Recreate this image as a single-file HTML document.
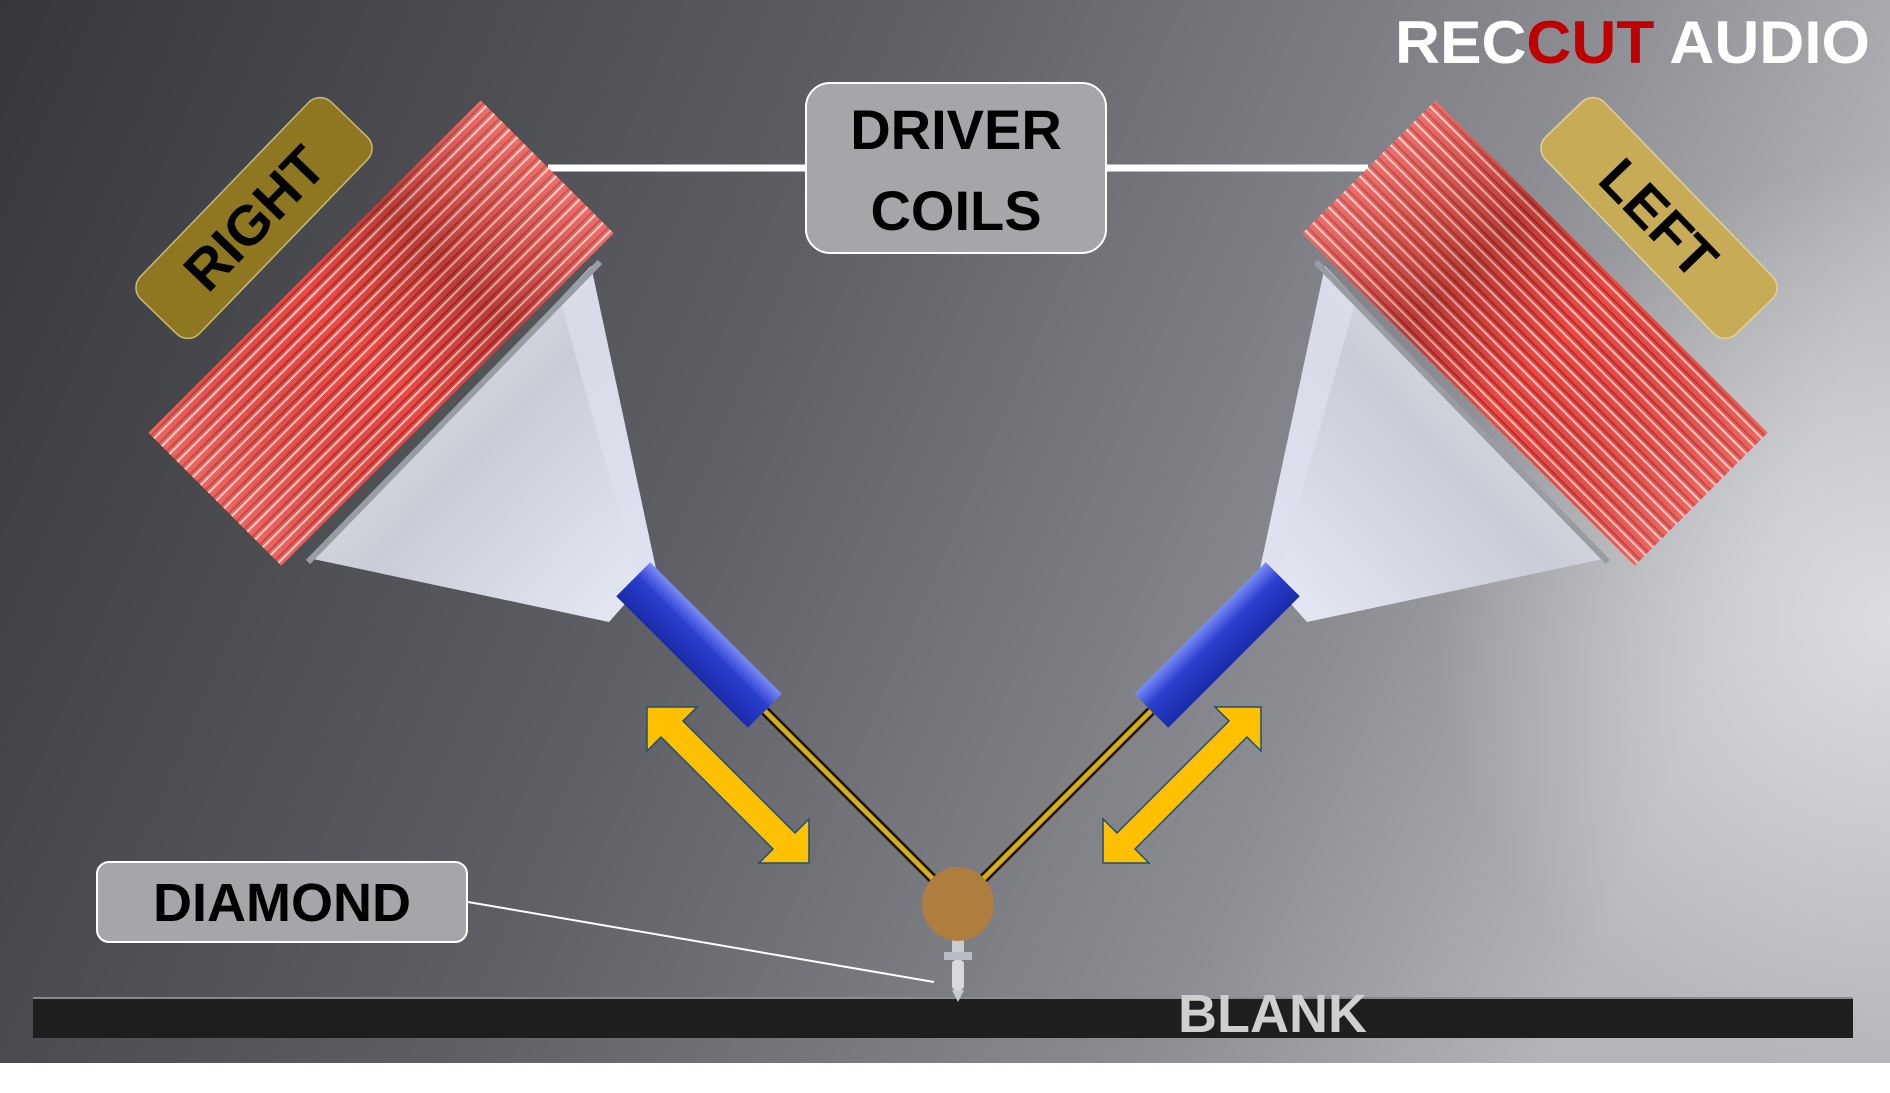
<!DOCTYPE html>
<html><head><meta charset="utf-8"><style>
html,body{margin:0;padding:0;background:#fff}
svg{display:block}
text{font-family:"Liberation Sans",sans-serif;font-weight:bold}
</style></head><body>
<svg width="1890" height="1093" viewBox="0 0 1890 1093" xmlns="http://www.w3.org/2000/svg">
<defs>
<linearGradient id="bg" x1="0" y1="0" x2="1" y2="0.25">
<stop offset="0" stop-color="#36373b"/><stop offset="0.45" stop-color="#5e5f64"/><stop offset="0.8" stop-color="#8c8d92"/><stop offset="1" stop-color="#b4b5b9"/>
</linearGradient>
<radialGradient id="glow" cx="1890" cy="620" r="460" gradientUnits="userSpaceOnUse">
<stop offset="0" stop-color="#e6e7ea" stop-opacity="0.8"/><stop offset="1" stop-color="#e6e7ea" stop-opacity="0"/>
</radialGradient>
<pattern id="coil" width="11" height="20" patternUnits="userSpaceOnUse">
<rect width="11" height="20" fill="#ec4a44"/>
<rect x="1" width="2" height="20" fill="#ffc9c2"/>
<rect x="8" width="2" height="20" fill="#b9302b"/>
</pattern>
<linearGradient id="coilShade" x1="0" y1="0" x2="0" y2="1">
<stop offset="0" stop-color="#fff" stop-opacity="0.2"/><stop offset="0.3" stop-color="#000" stop-opacity="0.2"/><stop offset="0.55" stop-color="#000" stop-opacity="0"/><stop offset="1" stop-color="#fff" stop-opacity="0.15"/>
</linearGradient>
<linearGradient id="cone" x1="0" y1="0" x2="1" y2="1">
<stop offset="0" stop-color="#f2f4fb"/><stop offset="0.5" stop-color="#c9ccd6"/><stop offset="1" stop-color="#e8ebf7"/>
</linearGradient>
<linearGradient id="blue" x1="0" y1="0" x2="0" y2="1">
<stop offset="0" stop-color="#7c8cf5"/><stop offset="0.4" stop-color="#2a3fd0"/><stop offset="1" stop-color="#1a2ba8"/>
</linearGradient>
<g id="unit">
<g transform="translate(381,333) rotate(45)">
<rect x="-94" y="-235" width="188" height="470" fill="url(#coil)"/>
<rect x="-94" y="-235" width="188" height="470" fill="url(#coilShade)"/>
</g>
<polygon points="591,266 656,569 609,622 313,559" fill="url(#cone)"/>
<polygon points="591,266 656,569 640,585 560,300" fill="#dde1f0" opacity="0.7"/>
<line x1="600" y1="262" x2="308" y2="562" stroke="#9a9ca4" stroke-width="6"/>
<line x1="765" y1="711" x2="958" y2="904" stroke="#1a1400" stroke-width="10"/>
<line x1="765" y1="711" x2="958" y2="904" stroke="#d6ae1a" stroke-width="5"/>
<g transform="translate(699,645) rotate(45)">
<rect x="-93" y="-24" width="186" height="48" fill="url(#blue)"/>
</g>
</g>
</defs>
<rect width="1890" height="1093" fill="url(#bg)"/>
<rect width="1890" height="1093" fill="url(#glow)"/>
<rect x="0" y="1063" width="1890" height="30" fill="#fff"/>
<rect x="33" y="998" width="1820" height="40" fill="#1e1e1e"/>
<line x1="33" y1="998" x2="1853" y2="998" stroke="#8a8a8a" stroke-width="2"/>
<text x="1178" y="1032" font-size="54" fill="#cfcfcf">BLANK</text>

<line x1="548" y1="168" x2="1368" y2="168" stroke="#fff" stroke-width="7"/>

<use href="#unit"/>
<g transform="translate(1916,0) scale(-1,1)"><use href="#unit"/></g>

<!-- stylus -->
<rect x="952" y="935" width="12" height="20" fill="#c9ccd2"/>
<rect x="944" y="952" width="28" height="8" fill="#b9bcc4"/>
<rect x="952" y="960" width="12" height="30" rx="4" fill="#d7d9de"/>
<polygon points="952,990 964,990 958,1002" fill="#c9ccd2"/>
<ellipse cx="958" cy="904" rx="36" ry="37" fill="#ad7e3d"/>

<!-- arrows -->
<g fill="#ffc000" stroke="#1f4e79" stroke-width="1.5">
<polygon points="647,707 697,707 683,721 795,833 809,819 809,863 759,863 773,849 661,737 647,751"/>
<polygon points="1261,707 1261,751 1247,737 1135,849 1149,863 1103,863 1103,819 1117,833 1229,721 1215,707"/>
</g>

<line x1="468" y1="902" x2="934" y2="982" stroke="#fff" stroke-width="2"/>

<!-- labels -->
<rect x="806" y="83" width="300" height="170" rx="24" fill="#a5a6a9" stroke="#fff" stroke-width="2"/>
<text x="956" y="149" font-size="56" text-anchor="middle" fill="#000">DRIVER</text>
<text x="956" y="230" font-size="56" text-anchor="middle" fill="#000">COILS</text>

<rect x="97" y="862" width="370" height="80" rx="12" fill="#a5a6a9" stroke="#fff" stroke-width="2"/>
<text x="282" y="921" font-size="54" text-anchor="middle" fill="#000">DIAMOND</text>

<g transform="translate(254,218) rotate(-46)">
<rect x="-137" y="-41" width="274" height="82" rx="16" fill="#8f7722" stroke="#c8b97a" stroke-width="1.5"/>
<text x="0" y="20" font-size="56" text-anchor="middle" fill="#000">RIGHT</text>
</g>
<g transform="translate(1659,218) rotate(46)">
<rect x="-137" y="-41" width="274" height="82" rx="16" fill="#c8ab56" stroke="#e0d09a" stroke-width="1.5"/>
<text x="0" y="20" font-size="56" text-anchor="middle" fill="#000">LEFT</text>
</g>

<!-- logo -->
<text x="1395" y="63" font-size="60" fill="#fff" textLength="475" lengthAdjust="spacingAndGlyphs">REC<tspan fill="#c00000">CUT</tspan> AUDIO</text>
</svg>
</body></html>
